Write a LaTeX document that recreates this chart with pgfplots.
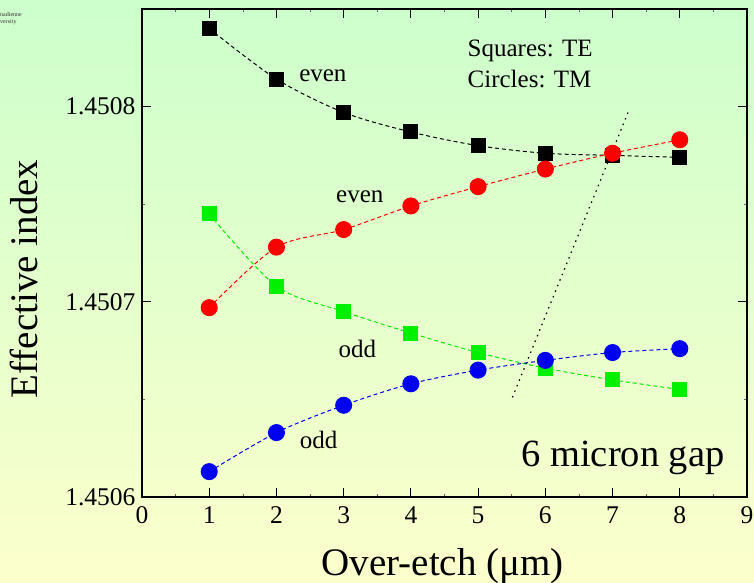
\documentclass[border=0pt]{standalone}
\usepackage{fontspec}
\setmainfont{Liberation Serif}
\usepackage{pgfplots}
\pgfplotsset{compat=1.18}
\definecolor{bgtop}{RGB}{204,255,204}
\definecolor{bgbot}{RGB}{252,255,204}
\definecolor{mgreen}{RGB}{0,240,0}
\definecolor{mblue}{RGB}{0,0,240}
\definecolor{mred}{RGB}{250,0,0}
\begin{document}
\begin{tikzpicture}
\shade[top color=bgtop,bottom color=bgbot] (0pt,0pt) rectangle (754pt,582pt);
\node[anchor=north west,font=\fontsize{6}{7}\selectfont,align=left,inner sep=0,text=black!80] at (0pt,570pt) {nadienne\\versity};
\begin{axis}[at={(142pt,85pt)}, anchor=south west, width=605pt, height=488pt, scale only axis,
 y filter/.expression={(y-1.4506)*10000},
 xmin=0,xmax=9,ymin=0,ymax=2.5,
 xtick={0,1,2,3,4,5,6,7,8,9},
 ytick={0,1,2}, yticklabels={1.4506,1.4507,1.4508},
 minor x tick num=1, minor y tick num=1,
 tick align=inside, major tick length=9pt, minor tick length=3pt,
 every tick/.style={black, line width=1pt},
 minor tick style={line width=0.5pt, black!60},
 axis line style={line width=1.3pt},
 ticklabel style={font=\fontsize{25.5}{28}\selectfont},
 /pgf/number format/assume math mode=true,
 xticklabel style={yshift=-6pt}, yticklabel style={xshift=-3pt},
 xlabel={Over-etch (μm)}, ylabel={Effective index},
 label style={font=\fontsize{39}{42}\selectfont, inner sep=0pt},
 xlabel style={at={(axis description cs:0.497,-0.160)}, anchor=base},
 ylabel style={at={(axis description cs:-0.172,0.447)}, anchor=base},
 clip=false,
]
\addplot[black, dash pattern=on 4pt off 3pt, line width=1pt, smooth, mark=square*, mark size=7pt, mark options={solid}]
 coordinates {(1,1.450840) (2,1.450814) (3,1.450797) (4,1.450787) (5,1.450780) (6,1.450776) (7,1.450775) (8,1.450774)};
\addplot[mred, dash pattern=on 4pt off 3pt, line width=1pt, smooth, mark=*, mark size=8pt, mark options={solid}]
 coordinates {(1,1.450697) (2,1.450728) (3,1.450737) (4,1.450749) (5,1.450759) (6,1.450768) (7,1.450776) (8,1.450783)};
\addplot[mgreen, dash pattern=on 4pt off 3pt, line width=1pt, smooth, mark=square*, mark size=7pt, mark options={solid}]
 coordinates {(1,1.450745) (2,1.450708) (3,1.450695) (4,1.450684) (5,1.450674) (6,1.450666) (7,1.450660) (8,1.450655)};
\addplot[mblue, dash pattern=on 4pt off 3pt, line width=1pt, smooth, mark=*, mark size=8pt, mark options={solid}]
 coordinates {(1,1.450613) (2,1.450633) (3,1.450647) (4,1.450658) (5,1.450665) (6,1.450670) (7,1.450674) (8,1.450676)};
\addplot[black, dash pattern=on 1.5pt off 4.5pt, line width=1.2pt] coordinates {(5.51,1.450651) (7.23,1.450797)};
\node[font=\fontsize{25}{28}\selectfont] at (rel axis cs:0.299,0.864) {even};
\node[font=\fontsize{25}{28}\selectfont] at (rel axis cs:0.360,0.616) {even};
\node[font=\fontsize{25}{28}\selectfont] at (rel axis cs:0.356,0.304) {odd};
\node[font=\fontsize{25}{28}\selectfont] at (rel axis cs:0.292,0.116) {odd};
\node[font=\fontsize{25}{28}\selectfont, anchor=west, align=left, inner sep=0pt] at (rel axis cs:0.538,0.888) {Squares: TE\\[3pt]Circles: TM};
\node[font=\fontsize{38.5}{42}\selectfont] at (rel axis cs:0.795,0.08) {6 micron gap};
\end{axis}
\pgfresetboundingbox
\useasboundingbox (0pt,0pt) rectangle (754pt,582pt);
\end{tikzpicture}
\end{document}
